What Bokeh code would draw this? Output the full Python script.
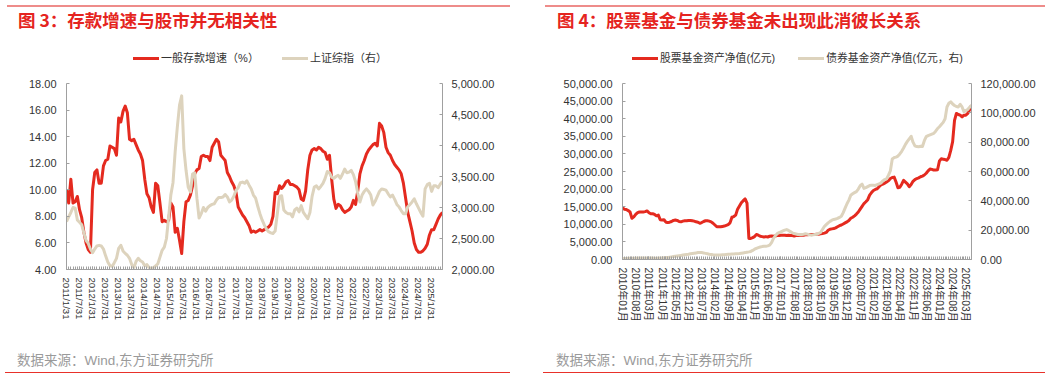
from bokeh.plotting import figure
from bokeh.models import (Range1d, LinearAxis, FixedTicker, NumeralTickFormatter, Div)
from bokeh.layouts import row, column
from bokeh.embed import file_html
from bokeh.resources import INLINE

# ---------------- data: left panel (monthly, 2011-01 .. 2025-06) ----------------
deposit_growth = [
    10.0, 9.0, 10.8, 9.0, 9.1, 9.5, 8.5, 7.9, 6.8, 6.0, 5.5, 5.3,
    10.0, 11.3, 11.5, 10.5, 10.5, 11.8, 12.2, 12.3, 13.3, 13.2, 13.1, 12.6,
    15.4, 15.1, 15.9, 16.3, 15.8, 13.8, 13.7, 13.8, 13.4, 13.0, 12.7, 12.2,
    10.8, 9.7, 9.4, 8.7, 8.3, 10.5, 10.3, 9.0, 7.6, 7.7, 7.6, 7.7,
    9.0, 8.7, 6.8, 7.1, 6.2, 5.2, 7.6, 9.1, 9.2, 9.6, 10.3, 11.2,
    11.5, 11.6, 12.5, 12.6, 12.5, 12.5, 12.2, 13.2, 13.5, 13.8, 13.6, 12.6,
    12.4, 12.2, 11.3, 11.0, 10.6, 10.3, 9.8, 8.7, 8.4, 8.1, 7.9, 7.6,
    7.3, 6.8, 6.9, 6.8, 6.9, 7.0, 6.9, 7.0, 7.1, 7.2, 7.4, 8.0,
    9.8, 9.7, 10.3, 10.1, 10.3, 10.6, 10.7, 10.4, 10.4, 10.3, 10.2, 10.0,
    9.3, 9.2, 9.9, 11.5, 12.6, 13.0, 13.1, 13.0, 13.2, 13.1, 12.9, 12.8,
    12.3, 12.6, 10.8, 9.3, 8.6, 8.9, 8.8, 8.5, 8.3, 8.4, 8.5, 8.7,
    9.2, 8.9, 9.9, 11.2, 11.8, 12.2, 12.7, 13.0, 13.2, 13.4, 13.5, 13.3,
    15.0, 14.8, 14.3, 13.2, 12.8, 12.6, 12.2, 11.9, 11.7, 11.5, 11.2, 10.5,
    9.4, 8.3, 7.6, 6.9, 6.0, 5.5, 5.3, 5.3, 5.4, 5.6, 5.9, 6.6,
    7.0, 7.0, 7.4, 7.8, 8.1, 8.3,
]
sh_index = [
    2770, 2850, 2920, 3000, 2990, 2800, 2760, 2720, 2590, 2470, 2420, 2330,
    2270, 2330, 2380, 2390, 2380, 2330, 2220, 2120, 2060, 2050, 2110, 2180,
    2340, 2390, 2300, 2260, 2230, 2180, 2080, 2030, 2130, 2180, 2140, 2120,
    2060, 2080, 2030, 2020, 2030, 2060, 2090, 2200, 2310, 2360, 2500, 2850,
    3200, 3400, 3900, 4300, 4650, 4800, 3950, 3600, 3330, 3250, 3540, 3560,
    3150, 2830, 2900, 3000, 2940, 3000, 3030, 3050, 3060, 3120, 3160, 3160,
    3170, 3210, 3170, 3090, 3120, 3180, 3280, 3320, 3400, 3410, 3390, 3430,
    3360, 3300, 3200, 3150, 3020, 2900, 2800, 2720, 2650, 2610, 2590, 2580,
    2620, 2900, 3180, 3190, 2960, 2920, 2900, 2900, 2850, 2960, 2990, 2930,
    3030, 2920, 2870, 2820, 2920, 3180, 3330, 3350, 3300, 3340, 3390, 3470,
    3580, 3560, 3490, 3470, 3500, 3520, 3470, 3540, 3620, 3560, 3570, 3600,
    3530, 3420, 3230, 3090, 3200, 3260, 3300, 3260, 3200, 3040, 3100, 3180,
    3260, 3300, 3290, 3280, 3220, 3170, 3200, 3130, 3050, 3010, 2950, 2900,
    2900, 3010, 3050, 3090, 3140, 3060, 2990, 2920, 2860, 3300, 3370, 3390,
    3260, 3350, 3350, 3320, 3380, 3420,
]
left_tick_pos = list(range(0, 169, 6))
left_tick_labels = [
    "2011/1/31", "2011/7/31", "2012/1/31", "2012/7/31", "2013/1/31", "2013/7/31",
    "2014/1/31", "2014/7/31", "2015/1/31", "2015/7/31", "2016/1/31", "2016/7/31",
    "2017/1/31", "2017/7/31", "2018/1/31", "2018/7/31", "2019/1/31", "2019/7/31",
    "2020/1/31", "2020/7/31", "2021/1/31", "2021/7/31", "2022/1/31", "2022/7/31",
    "2023/1/31", "2023/7/31", "2024/1/31", "2024/7/31", "2025/1/31",
]
left_y_ticks = [4, 6, 8, 10, 12, 14, 16, 18]
left_y2_ticks = [2000, 2500, 3000, 3500, 4000, 4500, 5000]

# ---------------- data: right panel (monthly, 2010-01 .. 2025-06) ----------------
stock_fund_nav = [
    14600, 14300, 14200, 13900, 13500, 11700, 12100, 12800, 13300, 13500, 13500, 13500,
    13600, 13800, 13300, 13000, 13000, 12800, 12400, 12600, 11300, 11200, 11300, 10600,
    10500, 10600, 10800, 11100, 11200, 11100, 10800, 10700, 10900, 11000, 11000, 11100,
    11100, 11000, 10900, 10700, 10600, 10300, 10500, 10800, 11000, 11000, 10900, 10700,
    10300, 9800, 9300, 9300, 9300, 9400, 9500, 9700, 9900, 10400, 12000, 12200,
    12600, 14300, 15200, 16100, 16700, 17200, 16000, 6000, 6000, 6200, 6500, 7100,
    6900, 6600, 6500, 6400, 6500, 6400, 6600, 6700, 6600, 6700, 6800, 6800,
    6900, 6900, 6900, 6800, 6900, 6800, 6800, 6700, 6800, 6800, 6900, 6900,
    6900, 7000, 7000, 7100, 7100, 7100, 7100, 7200, 7200, 7300, 7400, 7500,
    7700, 8300, 8600, 8700, 8800, 9000, 9300, 9600, 9800, 10100, 10400, 10700,
    11100, 11700, 12000, 12400, 12900, 13500, 14300, 15100, 15900, 16400, 17000, 18300,
    19000, 19600, 19900, 20100, 20700, 21200, 21400, 21700, 22000, 22400, 23000, 23300,
    23400, 22000, 20400, 20500, 21400, 22500, 22000, 21500, 20700, 21300, 22200, 22700,
    23000, 23200, 23500, 23700, 24000, 24500, 25200, 25700, 25600, 25400, 25400, 25500,
    28000, 28600, 28500, 28400, 28200, 29000, 31000, 33500, 39500, 41500, 41200, 41000,
    40500, 41000, 41000, 41500, 42500, 43800,
]
bond_fund_nav = [
    700, 720, 750, 780, 800, 820, 850, 900, 950, 1000, 1050, 1100,
    1100, 1050, 1000, 1000, 950, 900, 900, 950, 1000, 1100, 1200, 1300,
    1400, 1600, 1800, 2000, 2200, 2400, 2600, 2800, 3000, 3200, 3400, 3600,
    3900, 4100, 4300, 4500, 4700, 4800, 4700, 4500, 4200, 3900, 3600, 3400,
    3200, 3100, 3000, 3000, 3100, 3200, 3300, 3400, 3500, 3600, 3700, 3800,
    3900, 4000, 4100, 4300, 4500, 4700, 5000, 5200, 5500, 6200, 7000, 7600,
    8100, 8500, 8800, 9000, 9100, 9300, 9800, 11500, 14300, 16200, 17600, 18300,
    18900, 19500, 20000, 20400, 19800, 19000, 18200, 17700, 17400, 17100, 17000, 17000,
    17200, 17500, 17300, 16900, 16600, 16800, 17000, 17200, 17800, 18400, 20500, 22500,
    23800, 25000, 26000, 26800, 27300, 27600, 28000, 28700, 29500, 32000, 35000, 38000,
    40500, 43800, 44800, 45600, 46300, 48000, 50300, 51400, 48500, 49000, 49700, 50400,
    50700, 50600, 50500, 51000, 51500, 52200, 53600, 54500, 55000, 57500, 60500, 68500,
    69500, 69800, 70500, 72000, 73800, 76000, 78500, 80500, 82300, 84000, 80000, 77500,
    77000, 76900, 77200, 77000, 81000, 83800, 84500, 85000, 85500, 86000, 87500, 89300,
    90500, 92000, 93500, 96000, 104000, 106500, 107500, 106000, 105000, 104300, 104000, 105800,
    104000, 100700, 101500, 102300, 103800, 105200,
]
right_tick_pos = list(range(0, 183, 7))
right_tick_labels = [
    "2010年01月", "2010年08月", "2011年03月", "2011年10月", "2012年05月", "2012年12月",
    "2013年07月", "2014年02月", "2014年09月", "2015年04月", "2015年11月", "2016年06月",
    "2017年01月", "2017年08月", "2018年03月", "2018年10月", "2019年05月", "2019年12月",
    "2020年07月", "2021年02月", "2021年09月", "2022年04月", "2022年11月", "2023年06月",
    "2024年01月", "2024年08月", "2025年03月",
]
right_y_ticks = [0, 5000, 10000, 15000, 20000, 25000, 30000, 35000, 40000, 45000, 50000]
right_y2_ticks = [0, 20000, 40000, 60000, 80000, 100000, 120000]

# ---------------- styling ----------------
RED = "#E42A1F"
BEIGE = "#DDD3BD"
TITLE_RED = "#E52420"
TOP_LINE = "#EE8C8A"
BOTTOM_LINE = "#E8312A"
AXIS_GRAY = "#A0A0A0"
LABEL = "#333333"
SRC_GRAY = "#9A9A9A"
LAT = "Liberation Sans, Noto Sans CJK SC"
CSS_LAT = "'Liberation Sans','Noto Sans CJK SC'"

HEADER_H = 70
FOOTER_H = 28
FIG_H = 378 - HEADER_H - FOOTER_H   # 280
TOP_BORDER = 13                      # frame top at page y = 83


def style_axis(ax, size):
    ax.axis_line_color = AXIS_GRAY
    ax.major_tick_line_color = AXIS_GRAY
    ax.minor_tick_line_color = AXIS_GRAY
    ax.major_tick_in = 3
    ax.major_tick_out = 0
    ax.minor_tick_in = 0
    ax.minor_tick_out = 0
    ax.major_label_text_font = LAT
    ax.major_label_text_font_size = size
    ax.major_label_text_color = LABEL


def legend_item(color, label, size):
    return (
        '<div style="display:flex;align-items:center;">'
        f'<div style="width:26px;height:3px;background:{color};margin-right:2px;"></div>'
        f'<div style="font-family:{CSS_LAT};font-size:{size};color:{LABEL};'
        f'white-space:nowrap;line-height:12px;">{label}</div></div>'
    )


def header(width, title, rule_left, rule_width, title_left, leg_left, leg_w, legend, leg_size):
    items = "".join(legend_item(c, l, leg_size) for c, l in legend)
    html = (
        f'<div style="position:relative;width:{width}px;height:{HEADER_H}px;overflow:hidden;">'
        f'<div style="position:absolute;left:{rule_left}px;top:5px;width:{rule_width}px;'
        f'height:2px;background:{TOP_LINE};"></div>'
        f'<div style="position:absolute;left:{title_left}px;top:9px;height:22px;line-height:22px;'
        f"font-family:'Noto Sans CJK SC';font-size:17.5px;font-weight:bold;color:{TITLE_RED};"
        f'white-space:nowrap;">{title}</div>'
        f'<div style="position:absolute;left:{leg_left}px;top:52px;width:{leg_w}px;height:12px;'
        f'display:flex;justify-content:center;align-items:center;gap:23px;">{items}</div>'
        '</div>'
    )
    return Div(text=html, width=width, height=HEADER_H, margin=0)


def footer(width, rule_left, rule_width, src_left):
    html = (
        f'<div style="position:relative;width:{width}px;height:{FOOTER_H}px;overflow:hidden;">'
        f'<div style="position:absolute;left:{src_left}px;top:2px;height:18px;line-height:18px;'
        f"font-family:{CSS_LAT};font-size:13.5px;color:{SRC_GRAY};"
        f'white-space:nowrap;">数据来源：Wind,东方证券研究所</div>'
        f'<div style="position:absolute;left:{rule_left}px;top:21.5px;width:{rule_width}px;'
        f'height:1.5px;background:{BOTTOM_LINE};"></div></div>'
    )
    return Div(text=html, width=width, height=FOOTER_H, margin=0)


def panel(x, s1, s2, y_range, y2_range, y_ticks, y2_ticks, tick_pos, tick_labels,
          width, fh, bl, br, xlab_size, xlab_standoff):
    p = figure(output_backend="svg", toolbar_location=None,
               width=width, height=FIG_H,
               min_border_left=bl, min_border_right=br,
               min_border_top=TOP_BORDER, min_border_bottom=FIG_H - TOP_BORDER - fh,
               x_range=Range1d(x[0], x[-1]), y_range=Range1d(*y_range),
               margin=0)
    p.background_fill_color = "white"
    p.border_fill_color = "white"
    p.outline_line_color = None
    p.xgrid.visible = False
    p.ygrid.visible = False
    p.extra_y_ranges = {"r": Range1d(*y2_range)}

    p.line(x, s1, line_color=RED, line_width=3, line_join="round")
    p.line(x, s2, line_color=BEIGE, line_width=3, line_join="round", y_range_name="r")

    xa = p.xaxis[0]
    style_axis(xa, xlab_size)
    xa.ticker = FixedTicker(ticks=tick_pos, minor_ticks=list(x))
    xa.minor_tick_in = 3
    xa.major_label_overrides = {t: l for t, l in zip(tick_pos, tick_labels)}
    xa.major_label_orientation = "vertical"
    xa.major_label_standoff = xlab_standoff

    ya = p.yaxis[0]
    style_axis(ya, "11px")
    ya.ticker = FixedTicker(ticks=y_ticks)
    ya.formatter = NumeralTickFormatter(format="0,0.00")
    ya.major_label_standoff = 10

    ra = LinearAxis(y_range_name="r", ticker=FixedTicker(ticks=y2_ticks),
                    formatter=NumeralTickFormatter(format="0,0.00"))
    style_axis(ra, "11px")
    ra.major_label_standoff = 9
    p.add_layout(ra, "right")
    return p


x_left = list(range(len(deposit_growth)))
x_right = list(range(len(stock_fund_nav)))

p1 = panel(x_left, deposit_growth, sh_index, (4, 18), (2000, 5000),
           left_y_ticks, left_y2_ticks, left_tick_pos, left_tick_labels,
           530, 186, 66, 88, "9.6px", 8)

p2 = panel(x_right, stock_fund_nav, bond_fund_nav, (0, 50000), (0, 120000),
           right_y_ticks, right_y2_ticks, right_tick_pos, right_tick_labels,
           531, 176, 92, 90, "10.2px", 8)

h1 = header(530, "图 3：存款增速与股市并无相关性", 7, 503, 18, 72, 376,
            [(RED, "一般存款增速（%）"), (BEIGE, "上证综指（右）")], "11px")
h2 = header(531, "图 4：股票基金与债券基金未出现此消彼长关系", 15, 500, 27, 93, 349,
            [(RED, "股票基金资产净值(亿元)"), (BEIGE, "债券基金资产净值(亿元，右)")], "10.8px")

left_col = column(h1, p1, footer(530, 5, 505, 17), spacing=0, width=530, height=378)
right_col = column(h2, p2, footer(531, 13, 502, 26), spacing=0, width=531, height=378)
layout = row(left_col, right_col, spacing=0, width=1061, height=378)
open("out.html", "w").write(file_html(layout, INLINE))
